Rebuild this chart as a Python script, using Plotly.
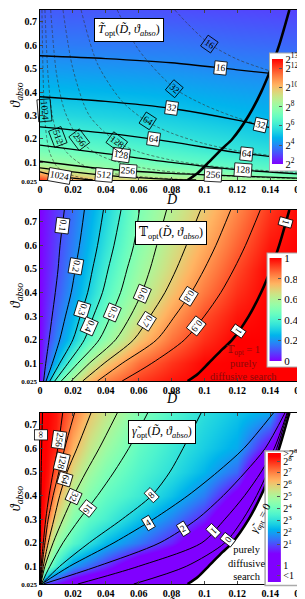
import numpy as np
import plotly.graph_objects as go

# ---------------- axis ticks ----------------
D_TICKS = [0, 0.02, 0.04, 0.06, 0.08, 0.10, 0.12, 0.14, 0.16]
D_TICK_TEXT = ["0", "0.02", "0.04", "0.06", "0.08", "0.1", "0.12", "0.14", "0.16"]
TH_TICKS = [0.025, 0.1, 0.2, 0.3, 0.4, 0.5, 0.6, 0.7]
TH_TICK_TEXT = ["<span style='font-size:7px'>0.025</span>", "0.1", "0.2", "0.3",
                "0.4", "0.5", "0.6", "0.7"]

# ---------------- boundary of purely diffusive search (all panels) ----------------
BOUND_TH = [0.025, 0.055, 0.1, 0.16, 0.2, 0.3, 0.4, 0.5, 0.6, 0.75]
BOUND_D = [0.0898, 0.096, 0.1025, 0.111, 0.117, 0.127, 0.1345, 0.1405, 0.1455, 0.1517]

# ---------------- panel 1 : log2 T_opt field ----------------
P1_GRID_D = [0, 0.02, 0.04, 0.08, 0.12, 0.16]
P1_GRID_TH = [0.025, 0.05, 0.075, 0.1, 0.15, 0.2, 0.3, 0.4, 0.5, 0.6, 0.75]
P1_LOG2T = [
    [12.3, 10.5, 9.8, 9.1, 8.5, 8.3],
    [10.6, 9.37, 8.8, 8.06, 7.7, 7.0],
    [9.1, 8.45, 7.95, 7.53, 6.92, 6.58],
    [8.18, 7.82, 7.58, 7.0, 6.58, 6.17],
    [7.35, 7.07, 6.86, 6.43, 5.94, 5.62],
    [6.67, 6.46, 6.29, 5.92, 5.58, 5.13],
    [5.63, 5.53, 5.44, 5.21, 4.91, 4.66],
    [4.89, 4.83, 4.78, 4.64, 4.44, 4.26],
    [4.31, 4.27, 4.23, 4.13, 3.98, 3.86],
    [3.8, 3.77, 3.75, 3.7, 3.55, 3.45],
    [3.3, 3.25, 3.2, 3.1, 3.0, 2.9],
]
# solid contours of T_opt (theta at P1_LINE_D)
P1_LINE_D = [0, 0.04, 0.08, 0.12, 0.16]
P1_T16 = [0.555, 0.543, 0.525, 0.495, 0.465]
P1_T32 = [0.380, 0.360, 0.330, 0.280, 0.214]
P1_T64 = [0.252, 0.225, 0.188, 0.142, 0.110]
P1_T128 = [0.174, 0.138, 0.100, 0.069, 0.050]
P1_T256 = [0.105, 0.072, 0.053, 0.042, 0.032]
P1_T512_D = [0, 0.02, 0.04, 0.06, 0.08, 0.095]
P1_T512 = [0.077, 0.060, 0.045, 0.035, 0.028, 0.025]
P1_T1024_D = [0, 0.01, 0.02, 0.032]
P1_T1024 = [0.060, 0.043, 0.033, 0.025]
# thin dashed comparison curves
P1_DASH16_D = [0.082, 0.09, 0.103, 0.12, 0.1417, 0.16]
P1_DASH16_TH = [0.75, 0.69, 0.606, 0.54, 0.486, 0.445]
P1_DASH32_D = [0.047, 0.06, 0.082, 0.10, 0.12, 0.14, 0.16]
P1_DASH32_TH = [0.75, 0.58, 0.415, 0.345, 0.29, 0.25, 0.22]
P1_DASH64_D = [0.025, 0.035, 0.05, 0.065, 0.08, 0.10, 0.12, 0.14, 0.16]
P1_DASH64_TH = [0.75, 0.52, 0.36, 0.275, 0.225, 0.18, 0.15, 0.13, 0.115]
P1_DASH128_D = [0.014, 0.02, 0.03, 0.0466, 0.06, 0.08, 0.10, 0.12, 0.14, 0.16]
P1_DASH128_TH = [0.75, 0.5, 0.30, 0.188, 0.145, 0.11, 0.088, 0.074, 0.064, 0.056]
P1_DASH256_D = [0.0065, 0.01, 0.015, 0.024, 0.035, 0.05, 0.07, 0.09, 0.12, 0.16]
P1_DASH256_TH = [0.75, 0.48, 0.32, 0.195, 0.135, 0.095, 0.068, 0.053, 0.04, 0.03]
P1_DASH512_D = [0.003, 0.005, 0.0075, 0.0109, 0.016, 0.025, 0.04, 0.06, 0.09]
P1_DASH512_TH = [0.75, 0.46, 0.30, 0.209, 0.145, 0.093, 0.058, 0.04, 0.026]
P1_DASH1024_D = [0.0012, 0.0018, 0.0026, 0.004, 0.006, 0.01, 0.015, 0.025, 0.034]
P1_DASH1024_TH = [0.75, 0.5, 0.323, 0.21, 0.14, 0.085, 0.057, 0.035, 0.025]

# ---------------- panel 2 : T_opt field ----------------
P2_GRID_D = [0, 0.005, 0.01, 0.02, 0.03, 0.04, 0.06, 0.08, 0.10, 0.12, 0.14, 0.16]
P2_GRID_TH = [0.025, 0.1, 0.2, 0.3, 0.4, 0.5, 0.6, 0.75]
P2_TOPT = [
    [0, 0.257, 0.425, 0.614, 0.744, 0.833, 0.925, 0.975, 1, 1, 1, 1],
    [0, 0.138, 0.256, 0.45, 0.6, 0.709, 0.856, 0.935, 0.993, 1, 1, 1],
    [0, 0.091, 0.169, 0.3, 0.433, 0.54, 0.721, 0.853, 0.941, 1, 1, 1],
    [0, 0.068, 0.132, 0.25, 0.369, 0.471, 0.642, 0.787, 0.9, 0.974, 1, 1],
    [0, 0.054, 0.107, 0.21, 0.311, 0.418, 0.585, 0.725, 0.844, 0.941, 1, 1],
    [0, 0.045, 0.091, 0.186, 0.281, 0.384, 0.55, 0.681, 0.8, 0.909, 0.998, 1],
    [0, 0.041, 0.082, 0.166, 0.255, 0.35, 0.521, 0.65, 0.761, 0.872, 0.973, 1],
    [0, 0.034, 0.068, 0.143, 0.226, 0.313, 0.496, 0.614, 0.713, 0.822, 0.934, 1],
]
P2_LINE_TH = [0.025, 0.1, 0.2, 0.3, 0.4, 0.5, 0.6, 0.75]
P2_L01 = [0.0022, 0.0035, 0.0055, 0.0074, 0.0093, 0.011, 0.0122, 0.0148]
P2_L02 = [0.0037, 0.0075, 0.012, 0.0155, 0.019, 0.0215, 0.024, 0.027]
P2_L03 = [0.006, 0.012, 0.020, 0.0245, 0.029, 0.032, 0.035, 0.0386]
P2_L04 = [0.009, 0.017, 0.027, 0.0325, 0.038, 0.0415, 0.045, 0.0493]
P2_L05 = [0.013, 0.023, 0.036, 0.043, 0.049, 0.053, 0.057, 0.0605]
P2_L06 = [0.019, 0.030, 0.046, 0.055, 0.062, 0.067, 0.071, 0.077]
P2_L07 = [0.026, 0.039, 0.057, 0.067, 0.076, 0.083, 0.089, 0.0977]
P2_L08 = [0.035, 0.050, 0.071, 0.082, 0.092, 0.100, 0.107, 0.116]
P2_L09 = [0.050, 0.068, 0.088, 0.100, 0.110, 0.118, 0.125, 0.134]

# ---------------- panel 3 : gamma_opt field (colour-bar position units) ----------------
P3_GRID_D = [0, 0.0025, 0.005, 0.01, 0.02, 0.03, 0.04, 0.06, 0.08, 0.10, 0.12, 0.14, 0.16]
P3_GRID_TH = [0.025, 0.1, 0.2, 0.3, 0.4, 0.5, 0.6, 0.75]
P3_LEVEL = [
    [8.6, 0.96, 0.75, 0.33, -0.5, -0.93, -1.18, -1.65, -1.95, -2.17, -2.17, -2.17, -2.17],
    [8.6, 5.5, 4.33, 3.33, 1.88, 1.29, 0.65, -0.75, -1.34, -2.0, -2.17, -2.17, -2.17],
    [8.6, 7.5, 6.0, 4.67, 3.63, 3.0, 2.33, 1.46, 0.52, -0.84, -2.17, -2.17, -2.17],
    [8.6, 8.17, 7.0, 5.73, 4.4, 3.77, 3.38, 2.47, 1.58, 0.54, -1.33, -2.17, -2.17],
    [8.6, 8.33, 8.05, 6.5, 5.06, 4.34, 3.85, 3.24, 2.45, 1.53, -0.14, -2.17, -2.17],
    [8.6, 8.41, 8.22, 7.43, 5.7, 4.88, 4.29, 3.56, 2.97, 2.28, 1.29, -2.0, -2.17],
    [8.6, 8.46, 8.32, 8.04, 6.33, 5.44, 4.78, 3.82, 3.21, 2.65, 2.11, 0.05, -2.17],
    [8.6, 8.5, 8.4, 8.17, 7.14, 6.1, 5.44, 4.3, 3.55, 2.95, 2.5, 2.05, -2.17],
]
P3_LINE_TH = [0.025, 0.1, 0.2, 0.3, 0.4, 0.5, 0.6, 0.75]
P3_LINF = [0.0, 0.0001, 0.0002, 0.0003, 0.0005, 0.0007, 0.001, 0.0015]
P3_L256 = [0.0001, 0.0007, 0.002, 0.0035, 0.0055, 0.008, 0.0108, 0.0138]
P3_L128 = [0.0002, 0.0012, 0.003, 0.005, 0.008, 0.0115, 0.015, 0.021]
P3_L64 = [0.0003, 0.002, 0.005, 0.0085, 0.012, 0.0165, 0.0225, 0.031]
P3_L32 = [0.0005, 0.003, 0.008, 0.014, 0.0205, 0.028, 0.036, 0.047]
P3_L16 = [0.0008, 0.006, 0.014, 0.024, 0.035, 0.045, 0.054, 0.0655]
P3_L8 = [0.001, 0.012, 0.030, 0.050, 0.068, 0.079, 0.087, 0.098]
P3_L4 = [0.001, 0.018, 0.045, 0.069, 0.090, 0.108, 0.124, 0.142]
P3_L2 = [0.002, 0.035, 0.073, 0.0955, 0.1115, 0.125, 0.137, 0.149]
P3_L1 = [0.023, 0.060, 0.0985, 0.1125, 0.1245, 0.1345, 0.1425, 0.1503]
P3_L0 = [0.057, 0.089, 0.1125, 0.1235, 0.1318, 0.1385, 0.144, 0.1508]

# colour bar ticks
CB1_VALS = [2, 4, 6, 8, 10, 12, 13]
CB1_TEXT = ["2<sup>2</sup>", "2<sup>4</sup>", "2<sup>6</sup>", "2<sup>8</sup>",
            "2<sup>10</sup>", "2<sup>12</sup>", "2<sup>13</sup>"]
CB2_VALS = [0, 0.2, 0.4, 0.6, 0.8, 1]
CB2_TEXT = ["0", "0.2", "0.4", "0.6", "0.8", "1"]
CB3_VALS = [-1.67, -0.75, 1, 2, 3, 4, 5, 6, 7, 7.95, 8.62]
CB3_TEXT = ["&lt;1", "1", "2<sup>1</sup>", "2<sup>2</sup>", "2<sup>3</sup>", "2<sup>4</sup>",
            "2<sup>5</sup>", "2<sup>6</sup>", "2<sup>7</sup>", "2<sup>8</sup>", "&gt;2<sup>8</sup>"]

# contour labels: (text, D, theta, angle)
P1_SOLID_LABELS = [("16", 0.110, 0.503, 6), ("32", 0.080, 0.330, 8), ("32", 0.134, 0.258, 13),
                   ("64", 0.069, 0.198, 8), ("64", 0.1255, 0.137, 6), ("128", 0.049, 0.130, 8),
                   ("128", 0.1235, 0.068, 4), ("256", 0.0535, 0.065, 4), ("256", 0.105, 0.046, 3),
                   ("512", 0.039, 0.046, 5), ("1024", 0.012, 0.041, 10)]
P1_DASH_LABELS = [("16", 0.103, 0.606, 35), ("32", 0.082, 0.415, 40), ("64", 0.0656, 0.275, 33),
                  ("128", 0.0466, 0.188, 36), ("256", 0.024, 0.195, 53), ("512", 0.0109, 0.209, 69),
                  ("1024", 0.0026, 0.323, 85)]
P2_LABELS = [("0.1", 0.0136, 0.682, 97), ("0.2", 0.0218, 0.512, 100), ("0.3", 0.0257, 0.326, 107),
             ("0.4", 0.030, 0.255, 114), ("0.5", 0.044, 0.314, 113), ("0.6", 0.062, 0.396, 113),
             ("0.7", 0.065, 0.279, 122), ("0.8", 0.0905, 0.385, 122), ("0.9", 0.095, 0.258, 128),
             ("1", 0.1495, 0.696, 106), ("1", 0.1207, 0.237, 125)]
P3_LABELS = [("∞", 0.0005, 0.656, 90), ("256", 0.0116, 0.636, 98), ("128", 0.0131, 0.545, 104),
             ("64", 0.0152, 0.467, 107), ("32", 0.0203, 0.397, 114), ("16", 0.0292, 0.347, 128),
             ("8", 0.068, 0.403, -44), ("4", 0.066, 0.283, -31), ("2", 0.087, 0.258, -32),
             ("1", 0.1055, 0.25, 134), ("0", 0.1145, 0.213, 128)]


def rainbow(x):
    r = min(1.0, abs(2 * x - 0.5))
    g = max(0.0, np.sin(np.pi * x))
    b = max(0.0, np.cos(np.pi * x / 2))
    return "rgb(%d,%d,%d)" % (round(r * 255), round(g * 255), round(b * 255))


RAINBOW = [[i / 20, rainbow(i / 20)] for i in range(21)]
C3MIN, C3MAX = -2.17, 8.67
n0 = (0.2 - C3MIN) / (C3MAX - C3MIN)
n1 = (8.4 - C3MIN) / (C3MAX - C3MIN)
RAINBOW3 = [[0, rainbow(0)]] + [[n0 + (n1 - n0) * i / 20, rainbow(i / 20)] for i in range(21)] + [[1, rainbow(1)]]

SERIF = "Liberation Serif, DejaVu Serif, DejaVu Sans, serif"
fig = go.Figure()


def cbar(y, ln, thick, ypad, vals, text, bw=1, fs=10.5):
    return dict(x=1.0076, xanchor="right", y=y, yanchor="middle", len=ln, thickness=thick,
                xpad=2, ypad=ypad, tickvals=vals, ticktext=text, ticks="inside", ticklen=3,
                tickcolor="#555", outlinewidth=0, bgcolor="white", bordercolor="#aaaaaa",
                borderwidth=bw, tickfont=dict(family=SERIF, size=fs, color="black"))


def line(xs, ys, ax, width=1.0, color="black", dash="solid"):
    fig.add_trace(go.Scatter(x=xs, y=ys, xaxis="x" + ax, yaxis="y" + ax, mode="lines",
                             line=dict(color=color, width=width, dash=dash, shape="spline",
                                       smoothing=0.8),
                             hoverinfo="skip", showlegend=False))


# ---------- panel 1 ----------
fig.add_trace(go.Heatmap(x=P1_GRID_D, y=P1_GRID_TH, z=P1_LOG2T, zsmooth="best",
                         colorscale=RAINBOW, zmin=2, zmax=13, xaxis="x", yaxis="y",
                         colorbar=cbar(0.823, 0.204, 11, 6, CB1_VALS, CB1_TEXT)))
for xs, ys in [(P1_DASH16_D, P1_DASH16_TH), (P1_DASH32_D, P1_DASH32_TH), (P1_DASH64_D, P1_DASH64_TH),
               (P1_DASH128_D, P1_DASH128_TH), (P1_DASH256_D, P1_DASH256_TH),
               (P1_DASH512_D, P1_DASH512_TH), (P1_DASH1024_D, P1_DASH1024_TH)]:
    line(xs, ys, "", width=0.6, color="#333333", dash="3px,2px")
for ys in [P1_T16, P1_T32, P1_T64, P1_T128, P1_T256]:
    line(P1_LINE_D, ys, "", width=1.3)
line(P1_T512_D, P1_T512, "", width=1.3)
line(P1_T1024_D, P1_T1024, "", width=1.3)
line(BOUND_D, BOUND_TH, "", width=2.6)

# ---------- panel 2 ----------
fig.add_trace(go.Heatmap(x=P2_GRID_D, y=P2_GRID_TH, z=P2_TOPT, zsmooth="best",
                         colorscale=RAINBOW, zmin=0, zmax=1, xaxis="x2", yaxis="y2",
                         colorbar=cbar(0.478, 0.197, 12, 5, CB2_VALS, CB2_TEXT, fs=11)))
for xs in [P2_L01, P2_L02, P2_L03, P2_L04, P2_L05, P2_L06, P2_L07, P2_L08, P2_L09]:
    line(xs, P2_LINE_TH, "2", width=1.0)
line(BOUND_D, BOUND_TH, "2", width=2.6)

# ---------- panel 3 ----------
fig.add_trace(go.Heatmap(x=P3_GRID_D, y=P3_GRID_TH, z=P3_LEVEL, zsmooth="best",
                         colorscale=RAINBOW3, zmin=C3MIN, zmax=C3MAX, xaxis="x3", yaxis="y3",
                         colorbar=cbar(0.116, 0.232, 13, 2, CB3_VALS, CB3_TEXT, bw=1.5,
                                       fs=10)))
fig.add_trace(go.Scatter(x=BOUND_D + [0.16, 0.16], y=BOUND_TH + [0.75, 0.025], xaxis="x3",
                         yaxis="y3", mode="lines", fill="toself", fillcolor="white",
                         line=dict(width=0, shape="spline", smoothing=0.8),
                         hoverinfo="skip", showlegend=False))
for xs in [P3_LINF, P3_L256, P3_L128, P3_L64, P3_L32, P3_L16, P3_L8, P3_L4, P3_L2, P3_L1, P3_L0]:
    line(xs, P3_LINE_TH, "3", width=1.0)
line(BOUND_D, BOUND_TH, "3", width=2.6)

# ---------- annotations ----------
ann = []


def lab(text, x, y, ang, ax, boxed=True):
    ann.append(dict(x=x, y=y, xref="x" + ax, yref="y" + ax, text=text, showarrow=False,
                    textangle=ang, font=dict(family=SERIF, size=9.5, color="black"),
                    bgcolor="white" if boxed else "rgba(0,0,0,0)", bordercolor="black",
                    borderwidth=0.8, borderpad=1))


for t, x, y, a in P1_SOLID_LABELS:
    lab(t, x, y, a, "")
for t, x, y, a in P1_DASH_LABELS:
    lab(t, x, y, a, "", boxed=False)
for t, x, y, a in P2_LABELS:
    lab(t, x, y, a, "2")
for t, x, y, a in P3_LABELS:
    lab(t, x, y, a, "3")

VT = "<i>ϑ</i><sub><i>abso</i></sub>"
DT = "<i>D\u0303</i>"
TITLES = [("", 0.054, 0.665, "<i>T\u0303</i><sub>opt</sub>(" + DT + ", " + VT + ")"),
          ("2", 0.0795, 0.652, "\U0001D54B<sub>opt</sub>(" + DT + ", " + VT + ")"),
          ("3", 0.0745, 0.668, "<i>γ\u0303</i><sub>opt</sub>(" + DT + ", " + VT + ")")]
for ax, x, y, t in TITLES:
    ann.append(dict(x=x, y=y, xref="x" + ax, yref="y" + ax, text=t, showarrow=False,
                    font=dict(family=SERIF, size=12, color="black"), bgcolor="white",
                    bordercolor="black", borderwidth=1, borderpad=3))

# x-axis titles placed just under each panel's tick labels
for yp in [0.6707, 0.324, -0.0355]:
    ann.append(dict(x=0.5, y=yp, xref="paper", yref="paper", text=DT, showarrow=False,
                    yanchor="middle", font=dict(family=SERIF, size=14, color="black")))

ann.append(dict(x=0.1235, y=0.10, xref="x2", yref="y2", showarrow=False,
                text="\U0001D54B<sub>opt</sub> = 1<br>purely<br>diffusive search",
                font=dict(family=SERIF, size=10.5, color="#8b0a0a")))
ann.append(dict(x=0.1255, y=0.112, xref="x3", yref="y3", showarrow=False,
                text="purely<br>diffusive<br>search",
                font=dict(family=SERIF, size=10.5, color="black")))
ann.append(dict(x=0.1345, y=0.305, xref="x3", yref="y3", showarrow=False, textangle=-62,
                text="<i>γ\u0303</i><sub>opt</sub> = 0",
                font=dict(family=SERIF, size=11, color="black")))

# ---------- layout ----------
TICKFONT = dict(family="Liberation Serif", size=10, color="black", weight="bold")


def xax(anchor):
    return dict(domain=[0, 1], anchor=anchor, range=[0, 0.16], tickvals=D_TICKS,
                ticktext=D_TICK_TEXT, ticks="inside", ticklen=3, mirror="ticks", showline=True,
                linecolor="black", linewidth=1, showgrid=False, zeroline=False, automargin=False,
                tickfont=TICKFONT)


def yax(anchor, dom):
    return dict(domain=dom, anchor=anchor, range=[0.025, 0.75], tickvals=TH_TICKS,
                ticktext=TH_TICK_TEXT, ticks="inside", ticklen=3, mirror="ticks", showline=True,
                linecolor="black", linewidth=1, showgrid=False, zeroline=False, automargin=False,
                tickfont=TICKFONT,
                title=dict(text=VT, font=dict(family=SERIF, size=14, color="black"), standoff=1))


fig.update_layout(
    template="none", width=305, height=599,
    margin=dict(l=32, r=10, t=2, b=23, autoexpand=False),
    paper_bgcolor="white", plot_bgcolor="white", showlegend=False,
    xaxis=xax("y"), yaxis=yax("x", [0.7038, 1.0]),
    xaxis2=xax("y2"), yaxis2=yax("x2", [0.3537, 0.6516]),
    xaxis3=xax("y3"), yaxis3=yax("x3", [0.0, 0.2979]),
    annotations=ann,
)

fig.write_html("out.html")
